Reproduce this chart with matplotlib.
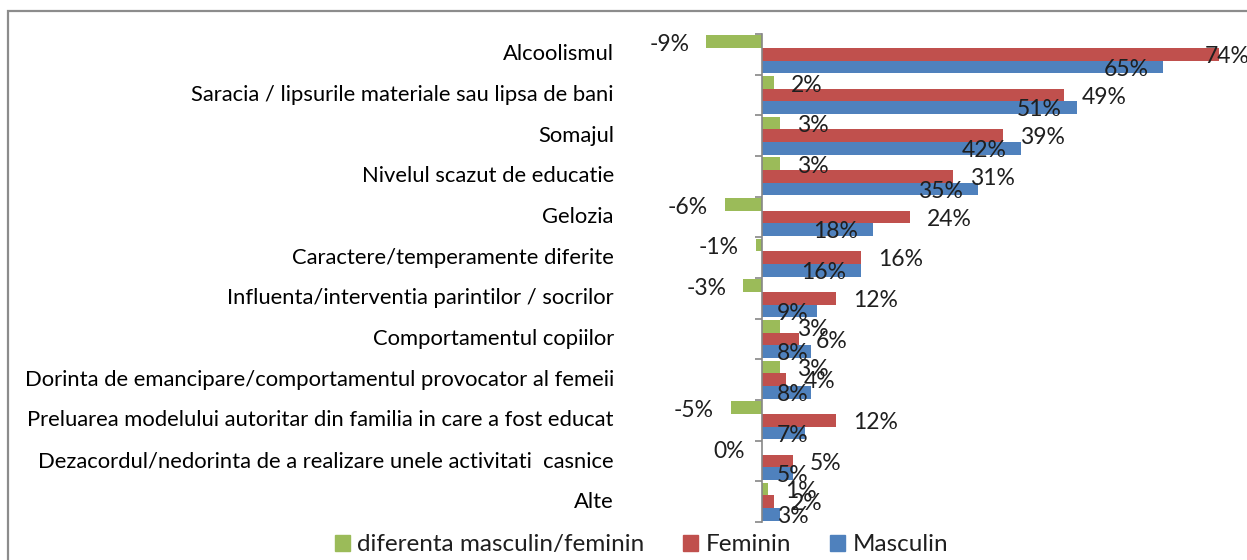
import matplotlib
matplotlib.use("Agg")
import matplotlib.pyplot as plt
from matplotlib.patches import Patch, Rectangle
import numpy as np

# chart data (percent)
categories = [
    "Alcoolismul",
    "Saracia / lipsurile materiale sau lipsa de bani",
    "Somajul",
    "Nivelul scazut de educatie",
    "Gelozia",
    "Caractere/temperamente diferite",
    "Influenta/interventia parintilor / socrilor",
    "Comportamentul copiilor",
    "Dorinta de emancipare/comportamentul provocator al femeii",
    "Preluarea modelului autoritar din familia in care a fost educat",
    "Dezacordul/nedorinta de a realizare unele activitati  casnice",
    "Alte",
]
diferenta = [-9, 2, 3, 3, -6, -1, -3, 3, 3, -5, 0, 1]
feminin = [74, 49, 39, 31, 24, 16, 12, 6, 4, 12, 5, 2]
masculin = [65, 51, 42, 35, 18, 16, 9, 8, 8, 7, 5, 3]

green = "#9BBB59"
red = "#C0504D"
blue = "#4F81BD"
axis_gray = "#868686"
txt = "#1f1f1f"
fam = ["Lato", "DejaVu Sans"]

W, H = 1247, 560
fig = plt.figure(figsize=(W / 100, H / 100), dpi=100)
# plot area in pixels: x 700..1256 for -10..80, y 34..522
ax = fig.add_axes([700 / W, (H - 522) / H, 556 / W, 488 / H])

y = np.arange(len(categories))
h = 0.313
ax.barh(y - h, diferenta, height=h, color=green, edgecolor="none")
ax.barh(y, feminin, height=h, color=red, edgecolor="none")
ax.barh(y + h, masculin, height=h, color=blue, edgecolor="none")

ax.set_xlim(-10, 80)
ax.set_ylim(len(categories) - 0.5, -0.5)

for s in ["top", "right", "bottom"]:
    ax.spines[s].set_visible(False)
ax.spines["left"].set_position(("data", 0))
ax.spines["left"].set_color(axis_gray)
ax.spines["left"].set_linewidth(1.2)
ax.set_xticks([])
ax.set_yticks(np.arange(len(categories) + 1) - 0.5)
ax.tick_params(axis="y", direction="out", length=5, color=axis_gray,
               width=1.2, labelleft=False)

# category labels, right aligned left of the plot area
for i, c in enumerate(categories):
    ax.text(-0.155, i, c, transform=ax.get_yaxis_transform(), ha="right",
            va="center", fontsize=15.8, family=fam, color="#000000")

lab_kw = dict(textcoords="offset pixels", va="center", fontsize=16.5,
              family=fam, color=txt, annotation_clip=False)

for i, v in enumerate(diferenta):
    if v > 0:
        ax.annotate(f"{v}%", (v, i - h), xytext=(17, -3), ha="left", **lab_kw)
    else:
        ax.annotate(f"{v}%", (v, i - h), xytext=(-17, -3), ha="right", **lab_kw)

red_labels = []
for i, v in enumerate(feminin):
    t = ax.annotate(f"{v}%", (v, i), xytext=(17, -2), ha="left", **lab_kw)
    red_labels.append(t)

blue_labels = []
for i, v in enumerate(masculin):
    t = ax.annotate(f"{v}%", (v, i + h), xytext=(-15, -2), ha="right", **lab_kw)
    blue_labels.append((t, i))

fig.canvas.draw()
r = fig.canvas.get_renderer()
x0 = ax.transData.transform((0, 0))[0]
# short blue bars: label starts just right of the axis instead
for t, i in blue_labels:
    bb = t.get_window_extent(r)
    if bb.x0 < x0 + 12:
        t.xy = (0, i + h)
        t.set_position((15, -2))
        t.set_ha("left")
# labels that would run off the chart are pulled back inside
for t in red_labels:
    bb = t.get_window_extent(r)
    if bb.x1 > W:
        bar_end = ax.transData.transform((t.xy[0], 0))[0]
        t.set_position((W + 3 - bar_end, -2))
        t.set_ha("right")

handles = [Patch(color=green, label="diferenta masculin/feminin"),
           Patch(color=red, label="Feminin"),
           Patch(color=blue, label="Masculin")]
fig.legend(handles=handles, loc="center", bbox_to_anchor=(0.5144, 0.027),
           ncol=3, frameon=False, prop={"family": fam, "size": 17.5},
           handlelength=0.62, handleheight=0.62, handletextpad=0.3,
           columnspacing=1.6, labelcolor=txt)

# chart border (cut off at right and bottom in the source)
fig.patches.append(Rectangle((8 / W, -0.2), 1.5, (H - 11) / H + 0.2,
                             transform=fig.transFigure, fill=False,
                             edgecolor="#8c8c8c", linewidth=1.6))

fig.savefig("out.png", dpi=100)
